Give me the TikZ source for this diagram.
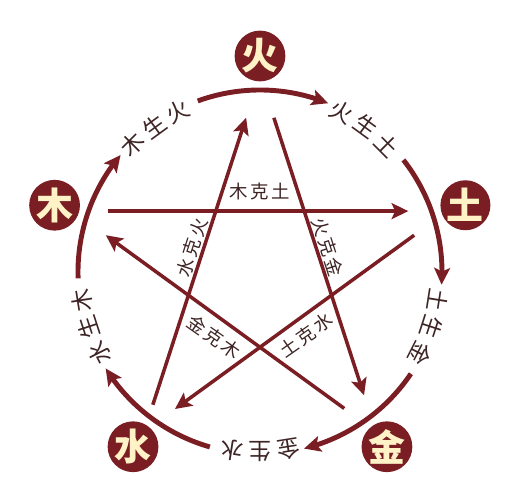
\documentclass[tikz,border=0pt]{standalone}
\usepackage{fontspec}
\newfontfamily\cjk{Noto Sans CJK SC}
\usetikzlibrary{arrows.meta, bending}

\definecolor{wine}{RGB}{122,30,36}
\definecolor{cream}{RGB}{255,242,198}
\definecolor{ink}{RGB}{62,36,36}

\begin{document}
\begin{tikzpicture}[x=0.02cm, y=0.02cm, >={Stealth[length=9.5pt, width=9pt, inset=2pt]}]
    \tikzstyle{element} = [circle, fill=wine, text=cream, minimum size=1cm, inner sep=0pt, font=\cjk\bfseries\fontsize{21}{21}\selectfont]
    \tikzstyle{cycle} = [->, wine, line width=2.8pt]
    \tikzstyle{check} = [->, wine, line width=2pt]
    \tikzstyle{glyph} = [text=ink, inner sep=0pt, font=\cjk\fontsize{13}{13}\selectfont]
    \tikzstyle{rule} = [text=ink, inner sep=0pt, font=\cjk\fontsize{10.5}{10.5}\selectfont]

    \useasboundingbox (-260,-227) rectangle (262,272);

    % the five elements
    \path
        node[element] (huo) at (90:216) {火}
        node[element] (tu) at (18:216) {土}
        node[element] (jin) at (-54:216) {金}
        node[element] (shui) at (-126:216) {水}
        node[element] (mu) at (162:216) {木};

    % corners of the star
    \foreach \name/\a in {huo/90, tu/18, jin/-54, shui/-126, mu/162}
        \coordinate (v-\name) at (\a:197);

    % generating cycle
    \foreach \a/\p/\q/\r [count=\i] in {126/木/生/火, 54/火/生/土, -18/土/生/金, -90/金/生/水, -162/水/生/木} {
        \coordinate (s\i) at (\a-16:182);
        \draw[cycle] (s\i) arc[start angle=\a-16, end angle=\a-58, radius=182];
        \node[glyph, rotate=\a-81] (g\i-1) at (\a+9:180) {\p};
        \node[glyph, rotate=\a-90] (g\i-2) at (\a:180) {\q};
        \node[glyph, rotate=\a-99] (g\i-3) at (\a-9:180) {\r};
    }

    % controlling cycle
    \path[check]
        (v-mu) edge[shorten <=0.70cm, shorten >=0.78cm] (v-tu)
        (v-huo) edge[shorten <=0.90cm, shorten >=0.76cm] (v-jin)
        (v-shui) edge[shorten <=0.56cm, shorten >=0.90cm] (v-huo)
        (v-jin) edge[shorten <=0.78cm, shorten >=0.82cm] (v-mu)
        (v-tu) edge[shorten <=0.82cm, shorten >=0.76cm] (v-shui);

    \path
        node[rule] (k-mu) at (0,80) {木\hspace{1.5pt}克\hspace{1.5pt}土}
        node[rule, rotate=-72] (k-huo) at (68,25) {火\hspace{1.5pt}克\hspace{1.5pt}金}
        node[rule, rotate=72] (k-shui) at (-68,24) {水\hspace{1.5pt}克\hspace{1.5pt}火}
        node[rule, rotate=-35] (k-jin) at (-46,-65) {金\hspace{1.5pt}克\hspace{1.5pt}木}
        node[rule, rotate=35] (k-tu) at (46,-63) {土\hspace{1.5pt}克\hspace{1.5pt}水};
\end{tikzpicture}
\end{document}
